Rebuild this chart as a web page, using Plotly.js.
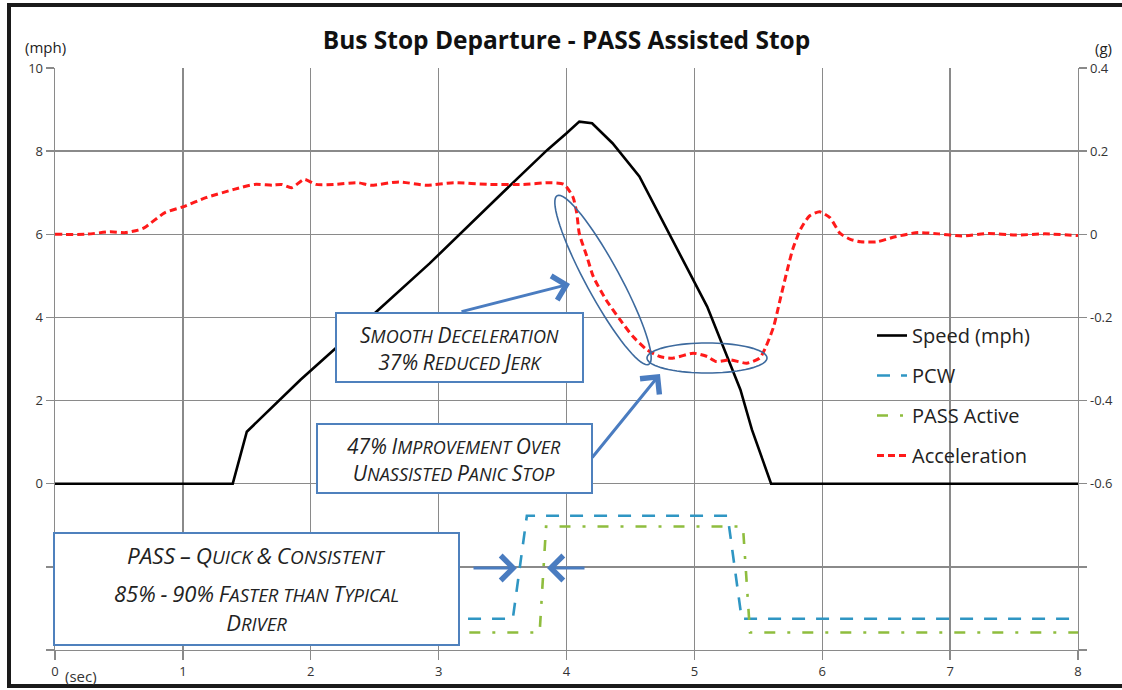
<!DOCTYPE html>
<html>
<head>
<meta charset="utf-8">
<script src="https://cdn.plot.ly/plotly-3.0.1.min.js"></script>
<style>html,body{margin:0;padding:0;background:#fff;}#chart{width:1122px;height:690px;}</style>
</head>
<body>
<div id="chart"></div>
<script>
// ---- data ----
const T_SPEED = [0, 1.39, 1.5, 1.92, 2.5, 2.93, 3.5, 3.85, 4.0, 4.1, 4.2, 4.36, 4.57, 4.83, 5.1, 5.36, 5.45, 5.6, 8];
const SPEED   = [0, 0, 1.25, 2.5, 4.1, 5.3, 7.0, 8.03, 8.43, 8.71, 8.67, 8.19, 7.39, 5.87, 4.26, 2.26, 1.3, 0, 0];

const T_ACC = [0, 0.24, 0.43, 0.55, 0.65, 0.7, 0.86, 1.0, 1.18, 1.4, 1.56, 1.7, 1.77, 1.85, 1.95, 2.04, 2.18, 2.37, 2.47, 2.69, 2.9, 3.12, 3.39, 3.66, 3.87, 3.98,
  4.05, 4.08, 4.10, 4.16, 4.21, 4.31, 4.42, 4.52, 4.63, 4.73, 4.83, 4.99, 5.10, 5.17, 5.28, 5.41, 5.51, 5.56, 5.62, 5.67, 5.72, 5.77, 5.83, 5.90, 5.98,
  6.06, 6.14, 6.22, 6.30, 6.43, 6.57, 6.75, 6.91, 7.09, 7.30, 7.51, 7.74, 8.0];
const ACC = [0, 0, 0.006, 0.004, 0.010, 0.016, 0.052, 0.066, 0.088, 0.108, 0.12, 0.118, 0.12, 0.112, 0.132, 0.12, 0.12, 0.124, 0.118, 0.126, 0.118, 0.124, 0.12, 0.12, 0.124, 0.12,
  0.09, 0.051, 0.002, -0.054, -0.102, -0.158, -0.206, -0.246, -0.278, -0.294, -0.298, -0.286, -0.294, -0.306, -0.302, -0.31, -0.298, -0.27, -0.222, -0.158, -0.094, -0.035, 0.012, 0.044, 0.054,
  0.04, 0.002, -0.012, -0.018, -0.018, -0.006, 0.004, 0.001, -0.004, 0.002, -0.002, 0.001, -0.003];

const T_PCW = [3.23, 3.58, 3.69, 5.26, 5.37, 8.0];
const PCW   = [-3.25, -3.25, -0.77, -0.77, -3.25, -3.25];
const T_PASS = [3.24, 3.79, 3.84, 5.38, 5.435, 8.0];
const PASS   = [-3.58, -3.58, -1.03, -1.03, -3.58, -3.58];

const X_TICKS = [0, 1, 2, 3, 4, 5, 6, 7, 8];
const X_TICK_TEXT = ['0', '1', '2', '3', '4', '5', '6', '7', '8'];
const Y_TICKS = [-4, -2, 0, 2, 4, 6, 8, 10];
const Y_TICK_TEXT = ['', '', '0', '2', '4', '6', '8', '10'];
const Y2_TICKS = [-1.0, -0.8, -0.6, -0.4, -0.2, 0, 0.2, 0.4];
const Y2_TICK_TEXT = ['', '', '-0.6', '-0.4', '-0.2', '0', '0.2', '0.4'];

// ---- geometry helpers (layout only) ----
const W = 1122, H = 690, ML = 55, MR = 44, MT = 68, MB = 40;
const PW = W - ML - MR, PH = H - MT - MB;
const XR = [0, 8], YR = [-4, 10];
const px2x = p => XR[0] + (p - ML) / PW * (XR[1] - XR[0]);
const py2y = p => YR[0] + (H - MB - p) / PH * (YR[1] - YR[0]);
const pxp = p => (p - ML) / PW;
const pyp = p => (H - MB - p) / PH;

function ellipse(cx, cy, a, b, deg) {
  const th = deg * Math.PI / 180; let d = '';
  for (let k = 0; k <= 72; k++) {
    const t = k / 72 * 2 * Math.PI;
    const px = cx + a * Math.cos(t) * Math.cos(th) - b * Math.sin(t) * Math.sin(th);
    const py = cy + a * Math.cos(t) * Math.sin(th) + b * Math.sin(t) * Math.cos(th);
    d += (k === 0 ? 'M' : 'L') + px2x(px).toFixed(4) + ',' + py2y(py).toFixed(4);
  }
  return d + 'Z';
}

// small-caps markup: lowercase letters become smaller capitals
function smallCaps(s, small) {
  let out = '', run = '', inSmall = false;
  const esc = c => c === '&' ? '&amp;' : c;
  const flush = () => {
    if (!run) return;
    out += inSmall ? '<span style="font-size:' + small + 'px">' + run + '</span>' : run;
    run = '';
  };
  for (const ch of s) {
    const isSmall = (ch >= 'a' && ch <= 'z') || ch === ' ';
    if (isSmall !== inSmall) { flush(); inSmall = isSmall; }
    run += isSmall ? ch.toUpperCase() : esc(ch);
  }
  flush();
  return out;
}

const GRID = '#8a8a8a';
const BOXC = '#4f81bd';
const ARR = '#4a7cc0';
const FONT = '"Open Sans", Lato, sans-serif';

const traces = [
  {x: T_SPEED, y: SPEED, name: 'Speed (mph)', type: 'scatter', mode: 'lines', legendgroup: 'a',
   line: {color: '#000000', width: 2.6}},
  {x: T_PCW, y: PCW, name: 'PCW', type: 'scatter', mode: 'lines', legendgroup: 'b',
   line: {color: '#2f96c3', width: 2.6, dash: '13px,11px'}},
  {x: T_PASS, y: PASS, name: 'PASS Active', type: 'scatter', mode: 'lines', legendgroup: 'c',
   line: {color: '#8fbd3e', width: 2.6, dash: '11px,12px,3px,12px'}},
  {x: T_ACC, y: ACC, name: 'Acceleration', type: 'scatter', mode: 'lines', yaxis: 'y2', legendgroup: 'd',
   line: {color: '#ff1a1a', width: 3, dash: '7px,4px', shape: 'spline', smoothing: 0.6}}
];

function boxRect(x0, y0, x1, y1) {
  return {type: 'rect', xref: 'paper', yref: 'paper', x0: pxp(x0), x1: pxp(x1), y0: pyp(y1), y1: pyp(y0),
          line: {color: BOXC, width: 2}, fillcolor: '#ffffff', layer: 'above'};
}
function txt(lines, cx, cy, big, small) {
  return {text: lines.map(l => smallCaps(l, small)).join('<br>'), xref: 'paper', yref: 'paper', x: pxp(cx), y: pyp(cy),
          xanchor: 'center', yanchor: 'middle', align: 'center',
          showarrow: false, font: {family: FONT, size: big, color: '#222', style: 'italic'}};
}
function arrow(tx, ty, hx, hy) {
  return {text: '', x: px2x(hx), y: py2y(hy), ax: px2x(tx), ay: py2y(ty), xref: 'x', yref: 'y', axref: 'x', ayref: 'y',
          showarrow: true, arrowhead: 4, arrowsize: 1.6, arrowwidth: 3, arrowcolor: ARR, standoff: 0};
}

const layout = {
  width: W, height: H,
  margin: {l: ML, r: MR, t: MT, b: MB},
  paper_bgcolor: '#ffffff', plot_bgcolor: '#ffffff',
  font: {family: FONT, color: '#222'},
  title: {text: '<b>Bus Stop Departure - PASS Assisted Stop</b>', x: 0.5, xref: 'paper', y: 1 - 40 / H, yref: 'container',
          xanchor: 'center', yanchor: 'middle', font: {family: FONT, size: 24.5, color: '#111'}},
  showlegend: true,
  legend: {x: pxp(872), y: pyp(316), xanchor: 'left', yanchor: 'top', bgcolor: 'rgba(0,0,0,0)', borderwidth: 0,
           font: {family: FONT, size: 20, color: '#222'}, traceorder: 'grouped', tracegroupgap: 11},
  xaxis: {range: XR, tickvals: X_TICKS, ticktext: X_TICK_TEXT, showgrid: true, gridcolor: GRID, gridwidth: 1.4,
          showline: true, linecolor: GRID, linewidth: 1.4, ticks: 'outside', ticklen: 9, tickcolor: GRID, tickwidth: 1.4,
          zeroline: false, tickfont: {family: FONT, size: 13, color: '#333'}, fixedrange: true},
  yaxis: {range: YR, tickvals: Y_TICKS, ticktext: Y_TICK_TEXT, showgrid: true, gridcolor: GRID, gridwidth: 1.4,
          showline: true, linecolor: GRID, linewidth: 1.4, ticks: 'outside', ticklen: 8, tickcolor: GRID, tickwidth: 1.4,
          zeroline: false, tickfont: {family: FONT, size: 13, color: '#333'}},
  yaxis2: {range: [-1.0, 0.4], overlaying: 'y', side: 'right', tickvals: Y2_TICKS, ticktext: Y2_TICK_TEXT, showgrid: false,
           showline: true, linecolor: GRID, linewidth: 1.4, ticks: 'outside', ticklen: 8, tickcolor: GRID, tickwidth: 1.4,
           zeroline: false, tickfont: {family: FONT, size: 13, color: '#333'}},
  shapes: [
    {type: 'rect', xref: 'paper', yref: 'paper', x0: pxp(9), x1: pxp(1140), y0: pyp(686), y1: pyp(5),
     line: {color: '#1a1a1a', width: 4}, fillcolor: 'rgba(0,0,0,0)', layer: 'above'},
    {type: 'rect', xref: 'paper', yref: 'paper', x0: pxp(852), x1: pxp(1070), y0: pyp(475), y1: pyp(315),
     line: {width: 0}, fillcolor: '#ffffff', layer: 'between'},
    boxRect(336, 313, 583, 382),
    boxRect(317, 424, 592, 493),
    boxRect(54, 533, 459, 645),
    {type: 'path', xref: 'x', yref: 'y', path: ellipse(603, 280, 96, 17, 61.5), line: {color: '#3d6a9e', width: 1.6}, layer: 'above'},
    {type: 'path', xref: 'x', yref: 'y', path: ellipse(707, 358, 60, 15, 0), line: {color: '#3d6a9e', width: 1.6}, layer: 'above'}
  ],
  annotations: [
    {text: '(mph)', xref: 'paper', yref: 'paper', x: pxp(45), y: pyp(47), xanchor: 'center', yanchor: 'middle', showarrow: false,
     font: {family: FONT, size: 15, color: '#222'}},
    {text: '(g)', xref: 'paper', yref: 'paper', x: pxp(1103), y: pyp(48), xanchor: 'center', yanchor: 'middle', showarrow: false,
     font: {family: FONT, size: 15, color: '#222'}},
    {text: '(sec)', xref: 'paper', yref: 'paper', x: pxp(81), y: pyp(676), xanchor: 'center', yanchor: 'middle', showarrow: false,
     font: {family: FONT, size: 15, color: '#333'}},
    txt(['Smooth Deceleration', '37% Reduced Jerk'], 459, 348, 21, 18),
    txt(['47% Improvement Over', 'Unassisted Panic Stop'], 454, 459, 21, 18),
    txt(['PASS – Quick & Consistent'], 256, 555, 22.5, 19),
    txt(['85% - 90% Faster than Typical', 'Driver'], 256, 607, 22, 18.5),
    arrow(460, 312, 570, 284),
    arrow(591, 459, 660, 374),
    arrow(472, 568, 517, 568),
    arrow(586, 568, 547, 568)
  ]
};

Plotly.newPlot('chart', traces, layout, {displayModeBar: false, staticPlot: true});
</script>
</body>
</html>
